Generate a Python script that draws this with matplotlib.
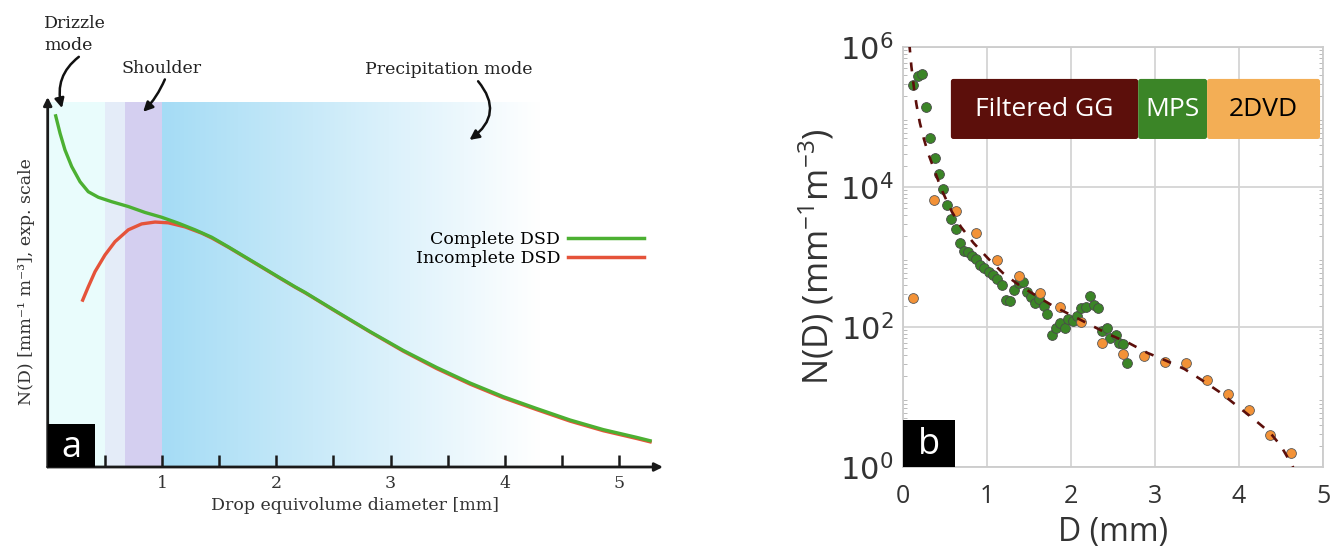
import numpy as np
import matplotlib
matplotlib.use('Agg')
import matplotlib.pyplot as plt
import matplotlib.transforms as mtransforms
from matplotlib.patches import Rectangle, FancyBboxPatch
from matplotlib.lines import Line2D

plt.rcParams['mathtext.fontset'] = 'custom'
plt.rcParams['mathtext.rm'] = 'Open Sans'
plt.rcParams['mathtext.it'] = 'Open Sans:italic'
plt.rcParams['mathtext.bf'] = 'Open Sans:bold'

# ---- panel a: esquema de la DSD (eje y en unidades arbitrarias 0..1)
d_completa = [0.070, 0.108, 0.151, 0.210, 0.283, 0.355, 0.443, 0.560, 0.705, 0.851,
              0.997, 1.143, 1.289, 1.435, 1.580, 1.726, 1.872, 2.017, 2.164, 2.251,
              2.528, 2.820, 3.111, 3.403, 3.695, 3.986, 4.278, 4.570, 4.861, 5.153, 5.27]
n_completa = [0.949, 0.902, 0.857, 0.812, 0.771, 0.744, 0.729, 0.717, 0.704, 0.688,
              0.675, 0.659, 0.641, 0.621, 0.595, 0.568, 0.541, 0.514, 0.487, 0.472,
              0.420, 0.366, 0.315, 0.269, 0.227, 0.190, 0.158, 0.127, 0.101, 0.080, 0.071]
d_incompleta = [0.306, 0.355, 0.414, 0.501, 0.589, 0.705, 0.822, 0.939, 1.055, 1.201,
                1.347, 1.435, 1.580, 1.726, 1.872, 2.017, 2.164, 2.251, 2.528, 2.820,
                3.111, 3.403, 3.695, 3.986, 4.278, 4.570, 4.861, 5.153, 5.27]
n_incompleta = [0.451, 0.487, 0.528, 0.573, 0.609, 0.641, 0.657, 0.662, 0.660, 0.649,
                0.632, 0.619, 0.594, 0.567, 0.540, 0.513, 0.486, 0.471, 0.419, 0.365,
                0.313, 0.266, 0.224, 0.187, 0.155, 0.124, 0.098, 0.077, 0.068]
ticks_a = [0.5, 1, 1.5, 2, 2.5, 3, 3.5, 4, 4.5, 5]

# ---- panel b: datos medidos (log10 N)
d_mps = [0.123, 0.182, 0.23, 0.27, 0.325, 0.377, 0.43, 0.475, 0.52, 0.575, 0.63, 0.675,
         0.726, 0.774, 0.82, 0.87, 0.92, 0.97, 1.02, 1.07, 1.12, 1.175, 1.23, 1.27, 1.32,
         1.38, 1.43, 1.48, 1.52, 1.57, 1.62, 1.675, 1.72, 1.77, 1.82, 1.87, 1.925, 1.97,
         2.02, 2.075, 2.12, 2.175, 2.23, 2.27, 2.325, 2.37, 2.425, 2.47, 2.53, 2.57,
         2.62, 2.67]
log_mps = [5.46, 5.59, 5.62, 5.14, 4.70, 4.41, 4.19, 3.97, 3.75, 3.54, 3.40, 3.20,
           3.09, 3.07, 3.02, 2.97, 2.89, 2.84, 2.79, 2.75, 2.69, 2.60, 2.38, 2.37, 2.53,
           2.63, 2.64, 2.50, 2.43, 2.35, 2.40, 2.30, 2.18, 1.89, 1.98, 2.06, 1.99, 2.12,
           2.09, 2.16, 2.27, 2.28, 2.44, 2.31, 2.27, 1.95, 1.98, 1.85, 1.89, 1.77,
           1.76, 1.48]
d_2dvd = [0.123, 0.37, 0.625, 0.87, 1.12, 1.38, 1.63, 1.87, 2.12, 2.37, 2.62, 2.87,
          3.12, 3.37, 3.62, 3.87, 4.12, 4.37, 4.62]
log_2dvd = [2.41, 3.82, 3.66, 3.34, 2.96, 2.73, 2.48, 2.28, 2.07, 1.77, 1.61, 1.59,
            1.50, 1.48, 1.25, 1.05, 0.82, 0.46, 0.20]
d_gg = [0.075, 0.10, 0.13, 0.16, 0.20, 0.25, 0.30, 0.38, 0.46, 0.58, 0.69, 0.84, 1.02,
        1.19, 1.38, 1.58, 1.80, 2.02, 2.23, 2.46, 2.69, 2.91, 3.13, 3.35, 3.56, 3.77,
        3.98, 4.17, 4.37, 4.50, 4.62, 4.65]
log_gg = [6.05, 5.72, 5.42, 5.18, 4.92, 4.68, 4.48, 4.22, 3.96, 3.65, 3.43, 3.20, 2.97,
          2.77, 2.60, 2.45, 2.29, 2.16, 2.03, 1.89, 1.77, 1.63, 1.52, 1.40, 1.24, 1.07,
          0.87, 0.69, 0.49, 0.30, 0.05, -0.02]

verde = '#4cb032'
rojo = '#e5533a'
serif = 'DejaVu Serif'
fs_a = 12.5

fig = plt.figure(figsize=(13.32, 5.5), dpi=100)

# =================== panel a
ax1 = fig.add_axes([47.7 / 1332, 83 / 550, 615.3 / 1332, 370 / 550])
techo = 0.986
ax1.axvspan(0, 0.5, ymax=techo, color='#e9fcfc', lw=0, zorder=0)
ax1.axvspan(0.5, 0.68, ymax=techo, color='#e4ecf8', lw=0, zorder=0)
ax1.axvspan(0.68, 1.0, ymax=techo, color='#d4cff0', lw=0, zorder=0)
# degradado celeste -> blanco
xs = np.linspace(1.0, 5.3, 300)
t = np.clip((xs - 1.0) / 3.3, 0, 1)[None, :, None]
c0 = np.array([165, 220, 245]) / 255.0
img = c0 * (1 - t) + 1.0 * t
ax1.imshow(img, extent=(1.0, 5.3, 0, techo), aspect='auto', zorder=0,
           interpolation='bilinear')
ax1.set_xlim(0, 5.383)
ax1.set_ylim(0, 1)

ax1.plot(d_incompleta, n_incompleta, color=rojo, lw=2.4, zorder=3)
ax1.plot(d_completa, n_completa, color=verde, lw=2.4, zorder=4)

for s in ax1.spines.values():
    s.set_visible(False)
for fin in [(1, 0), (0, 1)]:
    ax1.annotate('', xy=fin, xytext=(0, 0), xycoords='axes fraction',
                 arrowprops=dict(arrowstyle='-|>', color='#1a1a1a', lw=2, shrinkA=0,
                                 shrinkB=0, mutation_scale=12), annotation_clip=False)
ax1.set_xticks(ticks_a)
ax1.set_xticklabels([str(int(v)) if v == int(v) else '' for v in ticks_a],
                    family=serif, color='#333333')
ax1.set_yticks([])
ax1.tick_params(axis='x', direction='in', length=9, width=1.8, color='#1a1a1a',
                labelsize=fs_a, pad=6)
ax1.set_xlabel('Drop equivolume diameter [mm]', family=serif, fontsize=fs_a,
               color='#333333', labelpad=3)
ax1.set_ylabel('N(D) [mm⁻¹ m⁻³], exp. scale', family=serif, fontsize=fs_a,
               color='#333333', labelpad=9)

h = [Line2D([], [], color=verde, lw=2.5), Line2D([], [], color=rojo, lw=2.5)]
ax1.legend(h, ['Complete DSD', 'Incomplete DSD'], loc='center right',
           bbox_to_anchor=(0.984, 0.588), frameon=False, markerfirst=False,
           handlelength=4.4, handletextpad=0.45, labelspacing=0.12, borderpad=0,
           prop={'family': serif, 'size': fs_a})

flecha = dict(arrowstyle='-|>', color='#111111', lw=1.8, mutation_scale=14,
              shrinkA=0, shrinkB=0)
ax1.annotate('Drizzle\nmode', xy=(0.125, 0.97), xytext=(-0.03, 1.222),
             ha='left', va='top', family=serif, fontsize=fs_a,
             color='#222222', annotation_clip=False, linespacing=1.4,
             arrowprops=dict(flecha, connectionstyle='arc3,rad=0.35',
                             relpos=(0.62, 0.0)))
ax1.annotate('Shoulder', xy=(0.835, 0.96), xytext=(1.0, 1.078),
             ha='center', va='center', family=serif, fontsize=fs_a, color='#222222',
             annotation_clip=False,
             arrowprops=dict(flecha, connectionstyle='arc3,rad=-0.1',
                             relpos=(0.55, 0.0)))
ax1.annotate('Precipitation mode', xy=(3.69, 0.884), xytext=(3.51, 1.073),
             ha='center', va='center', family=serif, fontsize=fs_a, color='#222222',
             annotation_clip=False,
             arrowprops=dict(flecha, connectionstyle='arc3,rad=-0.55',
                             relpos=(0.66, 0.0)))

mezcla = mtransforms.blended_transform_factory(ax1.transData, ax1.transAxes)
ax1.add_patch(Rectangle((0, 0), 0.41, 0.115, transform=mezcla,
                        facecolor='black', zorder=6, clip_on=False))
ax1.text(0.205, 0.052, 'a', transform=mezcla, color='white', fontsize=26,
         family='Open Sans', ha='center', va='center', zorder=7)

# =================== panel b
ax2 = fig.add_axes([903 / 1332, 83 / 550, 420 / 1332, 420 / 550])
ax2.set_yscale('log')
ax2.set_xlim(0, 5)
ax2.set_ylim(1, 1e6)
ax2.grid(True, which='major', color='#d4d4d4', lw=1.3, zorder=0)
ax2.set_axisbelow(True)
ax2.scatter(d_mps, 10 ** np.array(log_mps), s=50, color='#3b8527',
            edgecolor='#4a4a4a', linewidth=0.6, zorder=2)
ax2.scatter(d_2dvd, 10 ** np.array(log_2dvd), s=50, color='#f39237',
            edgecolor='#5a5a5a', linewidth=0.6, zorder=2.5)
ax2.plot(d_gg, 10 ** np.array(log_gg), color='#5c0f0b', lw=1.9, ls=(0, (3.4, 3.8)),
         zorder=3)
ax2.set_xticks([0, 1, 2, 3, 4, 5])
ax2.set_yticks([1, 1e2, 1e4, 1e6])
ax2.tick_params(which='major', length=0, labelcolor='#333333')
ax2.tick_params(axis='x', which='major', labelsize=18, pad=12)
ax2.tick_params(axis='y', which='major', labelsize=22, pad=7)
ax2.tick_params(which='minor', direction='in', length=3, color='#b0b0b0',
                left=True, right=True, bottom=False)
for lab in ax2.get_xticklabels():
    lab.set_family('Open Sans')
for s in ax2.spines.values():
    s.set_color('#cccccc')
    s.set_linewidth(1.3)
ax2.set_xlabel('D (mm)', family='Open Sans', fontsize=23, color='#333333', labelpad=5)
ax2.set_ylabel('N(D) (mm$^{-1}$m$^{-3}$)', family='Open Sans', fontsize=25,
               color='#333333', labelpad=2)

cajas = [('Filtered GG', 0.114, 0.560, '#5c0f0b', 'white'),
         ('MPS', 0.560, 0.724, '#3b8527', 'white'),
         ('2DVD', 0.724, 0.993, '#f3ae55', 'black')]
for txt, x0, x1, fc, tc in cajas:
    ax2.add_patch(FancyBboxPatch((x0, 0.781), x1 - x0, 0.143, transform=ax2.transAxes,
                                 boxstyle='round,pad=0,rounding_size=0.006',
                                 facecolor=fc, edgecolor='none', zorder=5))
    ax2.text((x0 + x1) / 2, 0.852, txt, transform=ax2.transAxes, color=tc,
             fontsize=19, family='Open Sans', ha='center', va='center', zorder=6)

ax2.add_patch(Rectangle((0, 0), 0.124, 0.112, transform=ax2.transAxes,
                        facecolor='black', zorder=6))
ax2.text(0.062, 0.052, 'b', transform=ax2.transAxes, color='white', fontsize=26,
         family='Open Sans', ha='center', va='center', zorder=7)

fig.savefig('out.png', dpi=100)
